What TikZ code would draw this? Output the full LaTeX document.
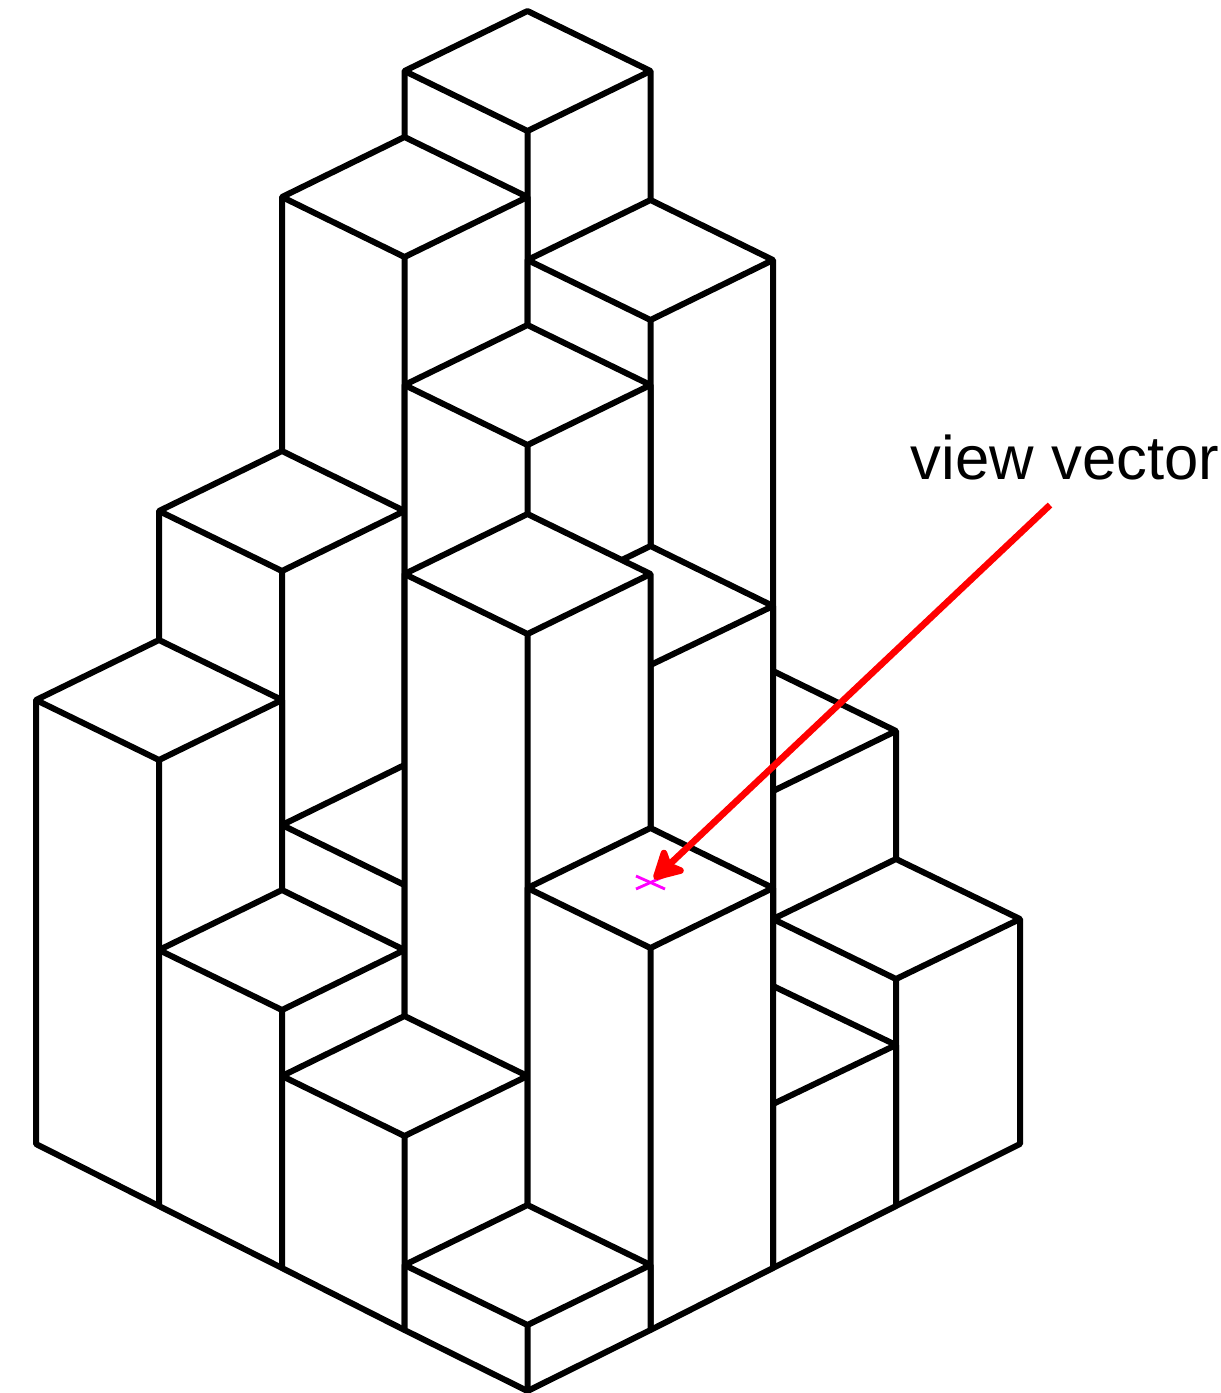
\documentclass[tikz,border=0pt]{standalone}
\usepackage{fontspec}
\setmainfont{Liberation Sans}
\usetikzlibrary{arrows.meta}
\definecolor{hitColor}{RGB}{255,0,255}

\begin{document}
\begin{tikzpicture}[
    x=1pt,
    y=-1pt,
    % Style for the visible outline of a column
    column/.style={
        draw=black,
        fill=white,
        line width=6pt,
        line join=round
    },
    % Style for the inner edges of a column
    columnEdge/.style={
        draw=black,
        line width=6pt,
        line join=round
    },
    % Style for the view arrow (red, filled head)
    viewArrow/.style={
        -{Stealth[length=35pt,width=38pt,inset=8pt,round]},
        draw=red,
        fill=red,
        line width=6.6pt
    },
    % Style for the hit point mark
    hitMark/.style={
        draw=hitColor,
        line width=2.8pt
    },
    % Style for the label
    viewLabel/.style={
        inner sep=0pt,
        text=black,
        font=\fontsize{61.6}{62}\selectfont
    }
]
    \useasboundingbox (0,0) rectangle (1221,1393);

    % --- BACK CORNER ---
    \draw[column] (527.5,1022) -- (404.5,961) -- (404.5,71) -- (527.5,11) -- (650.5,71) -- (650.5,961) -- cycle;
    \draw[columnEdge] (404.5,71) -- (527.5,131) -- (650.5,71) (527.5,131) -- (527.5,1022);

    % --- SECOND DIAGONAL ---
    \draw[column] (404.5,1083) -- (282,1022) -- (282,197) -- (404.5,137) -- (527.5,197) -- (527.5,1022) -- cycle;
    \draw[columnEdge] (282,197) -- (404.5,257) -- (527.5,197) (404.5,257) -- (404.5,1083);
    \draw[column] (650.5,1083) -- (527.5,1022) -- (527.5,260) -- (650.5,200) -- (773,260) -- (773,1022) -- cycle;
    \draw[columnEdge] (527.5,260) -- (650.5,320) -- (773,260) (650.5,320) -- (650.5,1083);

    % --- THIRD DIAGONAL ---
    \draw[column] (282,1145) -- (159,1083) -- (159,511) -- (282,451) -- (404.5,511) -- (404.5,1083) -- cycle;
    \draw[columnEdge] (159,511) -- (282,571) -- (404.5,511) (282,571) -- (282,1145);
    \draw[column] (527.5,1145) -- (404.5,1083) -- (404.5,385) -- (527.5,325) -- (650.5,385) -- (650.5,1083) -- cycle;
    \draw[columnEdge] (404.5,385) -- (527.5,445) -- (650.5,385) (527.5,445) -- (527.5,1145);
    \draw[column] (773,1145) -- (650.5,1083) -- (650.5,731) -- (773,671) -- (896,731) -- (896,1083) -- cycle;
    \draw[columnEdge] (650.5,731) -- (773,791) -- (896,731) (773,791) -- (773,1145);

    % --- MAIN DIAGONAL ---
    \draw[column] (159,1206) -- (36,1144) -- (36,700) -- (159,640) -- (282,700) -- (282,1145) -- cycle;
    \draw[columnEdge] (36,700) -- (159,760) -- (282,700) (159,760) -- (159,1206);
    \draw[column] (404.5,1206) -- (282,1145) -- (282,825) -- (404.5,765) -- (527.5,825) -- (527.5,1145) -- cycle;
    \draw[columnEdge] (282,825) -- (404.5,885) -- (527.5,825) (404.5,885) -- (404.5,1206);
    \draw[column] (650.5,1206) -- (527.5,1145) -- (527.5,606) -- (650.5,546) -- (773,606) -- (773,1145) -- cycle;
    \draw[columnEdge] (527.5,606) -- (650.5,665) -- (773,606) (650.5,665) -- (650.5,1206);
    \draw[column] (896,1206) -- (773,1145) -- (773,919) -- (896,859) -- (1020,919) -- (1020,1144) -- cycle;
    \draw[columnEdge] (773,919) -- (896,979) -- (1020,919) (896,979) -- (896,1206);

    % --- THIRD DIAGONAL, FRONT SIDE ---
    \draw[column] (282,1268) -- (159,1206) -- (159,950) -- (282,890) -- (404.5,950) -- (404.5,1206) -- cycle;
    \draw[columnEdge] (159,950) -- (282,1010) -- (404.5,950) (282,1010) -- (282,1268);
    \draw[column] (527.5,1268) -- (404.5,1206) -- (404.5,574) -- (527.5,514) -- (650.5,574) -- (650.5,1206) -- cycle;
    \draw[columnEdge] (404.5,574) -- (527.5,634) -- (650.5,574) (527.5,634) -- (527.5,1268);
    \draw[column] (773,1268) -- (650.5,1206) -- (650.5,1045) -- (773,986) -- (896,1045) -- (896,1206) -- cycle;
    \draw[columnEdge] (650.5,1045) -- (773,1104) -- (896,1045) (773,1104) -- (773,1268);

    % --- SECOND DIAGONAL, FRONT SIDE ---
    \draw[column] (404.5,1330) -- (282,1268) -- (282,1076) -- (404.5,1016) -- (527.5,1076) -- (527.5,1268) -- cycle;
    \draw[columnEdge] (282,1076) -- (404.5,1136) -- (527.5,1076) (404.5,1136) -- (404.5,1330);
    \draw[column] (650.5,1330) -- (527.5,1268) -- (527.5,888) -- (650.5,828) -- (773,888) -- (773,1268) -- cycle;
    \draw[columnEdge] (527.5,888) -- (650.5,948) -- (773,888) (650.5,948) -- (650.5,1330);

    % --- FRONT CORNER ---
    \draw[column] (527.5,1391) -- (404.5,1330) -- (404.5,1265) -- (527.5,1205) -- (650.5,1265) -- (650.5,1330) -- cycle;
    \draw[columnEdge] (404.5,1265) -- (527.5,1325) -- (650.5,1265) (527.5,1325) -- (527.5,1391);

    % --- HIT POINT ---
    \draw[hitMark] (636,876) -- (665,889);
    \draw[hitMark] (636,889) -- (665,876);

    % --- VIEW VECTOR ---
    \node[viewLabel] (viewText) at (1065,457.5) {view vector};
    \coordinate (viewStart) at (1050,505);
    \coordinate (viewTip) at (654,879);
    \draw[viewArrow] (viewStart) -- (viewTip);

\end{tikzpicture}
\end{document}
